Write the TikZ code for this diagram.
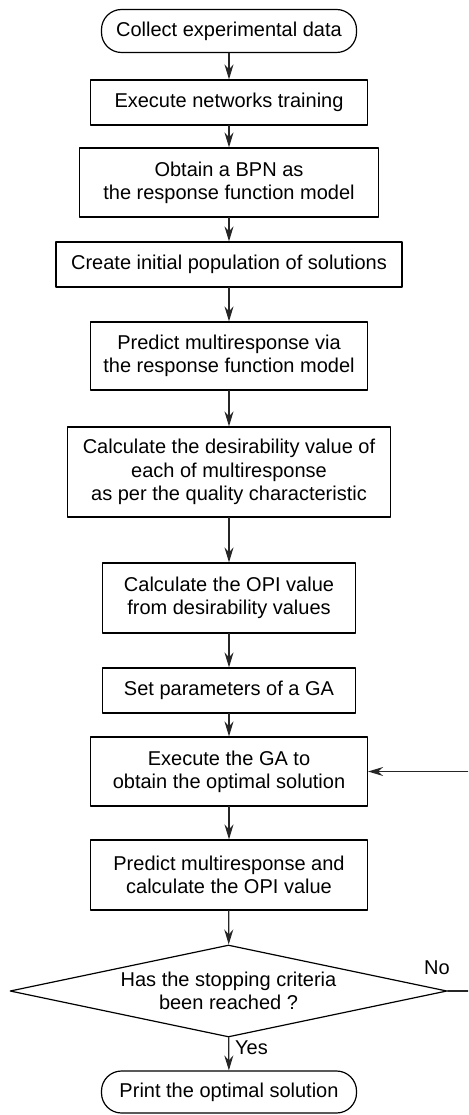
\documentclass[tikz,border=0pt]{standalone}
\usepackage{fontspec}
\setmainfont{Liberation Sans}
\usetikzlibrary{shapes.geometric, arrows.meta}

\begin{document}
\begin{tikzpicture}[x=1pt, y=-1pt, line cap=round, line join=round]

% --- Global TikZ Styles ---
\tikzset{
    procbox/.style={
        rectangle,
        draw=black,
        line width=1.2pt,
        align=center,
        inner sep=0pt,
        font=\fontsize{20}{23.3}\selectfont
    },
    termbox/.style={
        procbox,
        rounded corners=20pt
    },
    decision/.style={
        diamond,
        draw=black,
        line width=1.2pt,
        align=center,
        inner sep=0pt,
        aspect=4.75,
        font=\fontsize{20}{23.3}\selectfont
    },
    flow/.style={
        -{Stealth[length=15pt, width=9pt, inset=5pt]},
        line width=1.2pt,
        draw=black!85
    },
    branchlabel/.style={
        inner sep=0pt,
        font=\fontsize{20}{23.3}\selectfont
    }
}

% picture frame (the loop back to the GA runs outside it)
\clip (0,0) rectangle (468,1115);

% =========================================================================
% --- Data and network model ---
% =========================================================================

\node[termbox, minimum width=255pt, minimum height=43pt] (collect) at (229,31)
    {Collect experimental data};

\node[procbox, minimum width=277pt, minimum height=45pt] (train) at (229,102.5)
    {Execute networks training};

\node[procbox, minimum width=299pt, minimum height=69pt] (bpn) at (229,182.5)
    {Obtain a BPN as\\the response function model};

% =========================================================================
% --- Evaluation of solutions ---
% =========================================================================

\node[procbox, minimum width=346pt, minimum height=45pt] (initpop) at (229,264.5)
    {Create initial population of solutions};

\node[procbox, minimum width=277pt, minimum height=68pt] (predict) at (229,356)
    {Predict multiresponse via\\the response function model};

\node[procbox, minimum width=323pt, minimum height=90pt] (desir) at (229,472)
    {Calculate the desirability value of\\each of multiresponse\\as per the quality characteristic};

\node[procbox, minimum width=253pt, minimum height=70pt] (opi) at (229,598)
    {Calculate the OPI value\\from desirability values};

% =========================================================================
% --- GA loop ---
% =========================================================================

\node[procbox, minimum width=253pt, minimum height=45pt] (setga) at (229,690.5)
    {Set parameters of a GA};

\node[procbox, minimum width=277pt, minimum height=69pt] (runga) at (229,771.5)
    {Execute the GA to\\obtain the optimal solution};

\node[procbox, minimum width=277pt, minimum height=70pt] (evalopi) at (229,875)
    {Predict multiresponse and\\calculate the OPI value};

\node[decision, minimum width=437pt, minimum height=92pt] (stopcheck) at (228.5,991)
    {Has the stopping criteria\\been reached ?};

\node[termbox, minimum width=255pt, minimum height=42pt] (printsol) at (229,1092)
    {Print the optimal solution};

% --- Arrows ---
\draw[flow] (collect) -- (train);
\draw[flow] (train) -- (bpn);
\draw[flow] (bpn) -- (initpop);
\draw[flow] (initpop) -- (predict);
\draw[flow] (predict) -- (desir);
\draw[flow] (desir) -- (opi);
\draw[flow] (opi) -- (setga);
\draw[flow] (setga) -- (runga);
\draw[flow] (runga) -- (evalopi);
\draw[flow] (evalopi) -- (stopcheck);
\draw[flow] (stopcheck) -- (printsol);

% --- Loop back: No ---
\draw[flow] (stopcheck.east) -- ++(40,0) |- (runga.east);

% --- Labels ---
\node[branchlabel] (nolabel) at (437,968) {No};
\node[branchlabel, anchor=west] (yeslabel) at (235,1048) {Yes};

\end{tikzpicture}
\end{document}
